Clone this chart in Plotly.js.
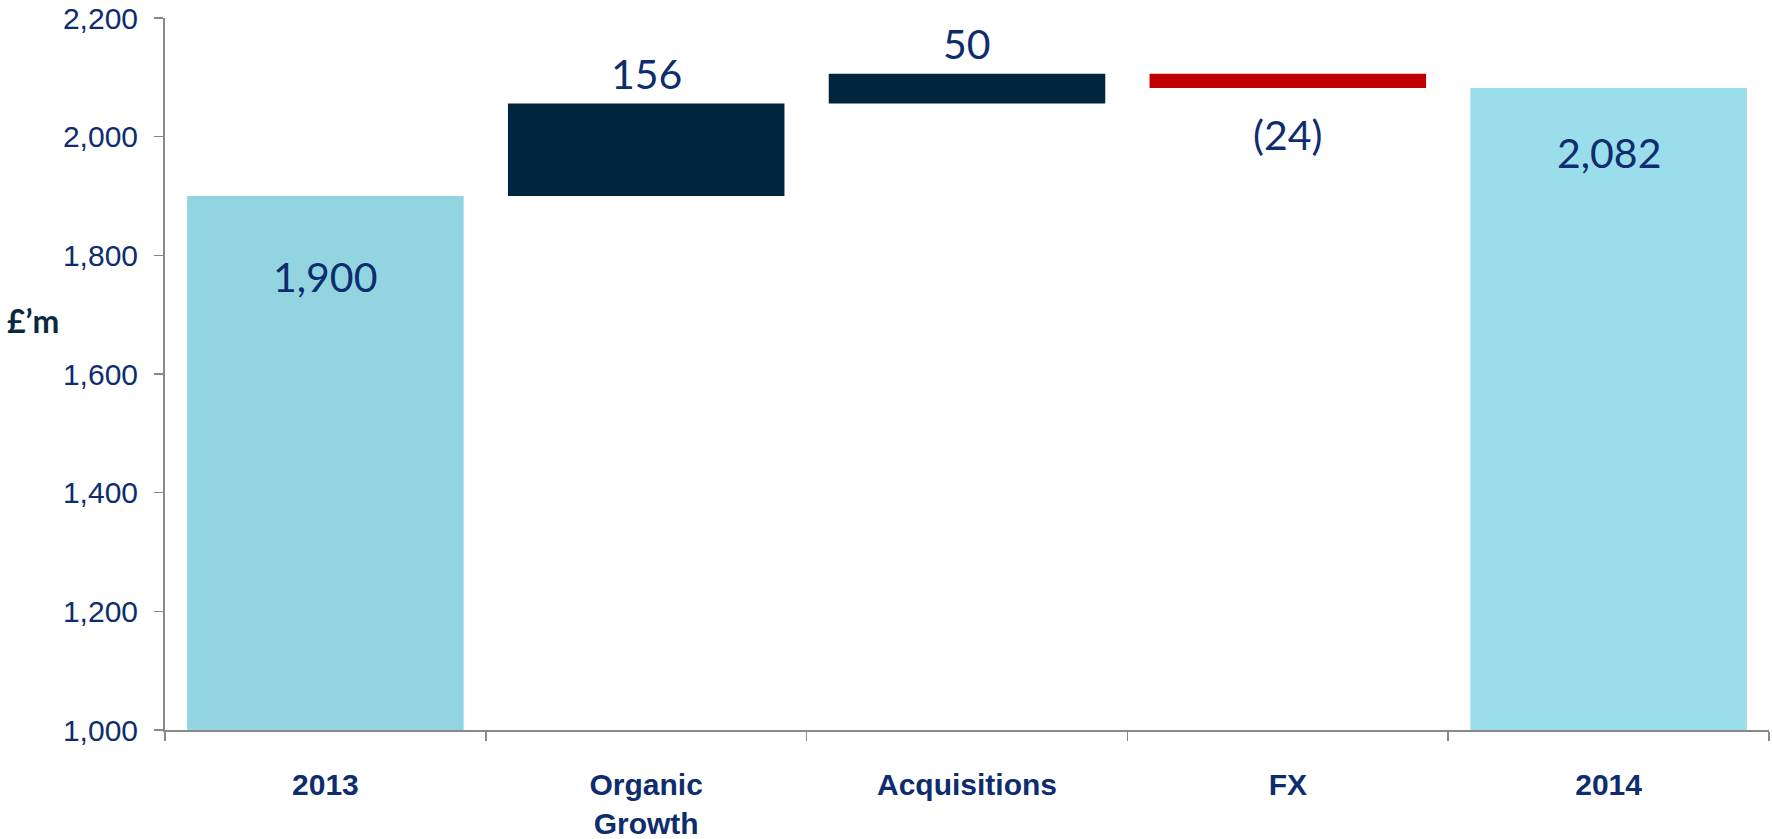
<!DOCTYPE html>
<html>
<head>
<meta charset="utf-8">
<script src="https://cdn.plot.ly/plotly-3.0.1.min.js"></script>
<style>
html,body{margin:0;padding:0;background:#fff;}
#chart{width:1772px;height:839px;}
</style>
</head>
<body>
<div id="chart"></div>
<script>
// ---- data ----
const categories = ['2013', 'Organic<br>Growth', 'Acquisitions', 'FX', '2014'];
const measures = ['absolute', 'relative', 'relative', 'relative', 'total'];
const values = [1900, 156, 50, -24, 2082];
const labels = ['1,900', '156', '50', '(24)', '2,082'];
const yTickVals = [1000, 1200, 1400, 1600, 1800, 2000, 2200];
const yTickText = ['1,000', '1,200', '1,400', '1,600', '1,800', '2,000', '2,200'];

// ---- styles ----
const colStart = '#92D5E1';
const colEnd = '#9ADDEB';
const colUp = '#02253F';
const colDown = '#C00000';
const navy = '#0E2D6E';

// build bases / heights from the data
const bases = [], heights = [], colors = [];
let running = 0;
values.forEach((v, i) => {
  if (measures[i] === 'absolute' || measures[i] === 'total') {
    bases.push(0); heights.push(v); running = v;
    colors.push(i === 0 ? colStart : colEnd);
  } else {
    bases.push(running); heights.push(v); running += v;
    colors.push(v >= 0 ? colUp : colDown);
  }
});

const trace = {
  type: 'bar',
  x: categories,
  y: heights,
  base: bases,
  width: 0.862,
  marker: {color: colors, line: {width: 0}},
  hoverinfo: 'skip'
};

// label annotations: position relative to bar ends (x given as category index)
const annotations = [];
values.forEach((v, i) => {
  const top = bases[i] + Math.max(v, 0);
  const bottom = bases[i] + Math.min(v, 0);
  let y, shift;
  if (measures[i] !== 'relative') { y = top; shift = i === 0 ? -80 : -64; }
  else if (v >= 0) { y = top; shift = 30; }
  else { y = bottom; shift = -46; }
  annotations.push({
    x: i, y: y, xref: 'x', yref: 'y',
    text: labels[i], showarrow: false, yanchor: 'middle', yshift: shift,
    font: {family: 'Lato, "Open Sans", sans-serif', size: 41, color: navy}
  });
});
annotations.push({
  xref: 'paper', yref: 'paper', x: -0.082, y: 0.575, xanchor: 'center', yanchor: 'middle',
  text: '<b>£’m</b>', showarrow: false,
  font: {family: 'Lato, "Liberation Sans", sans-serif', size: 32, color: '#0B2A40'}
});

const layout = {
  width: 1772, height: 839,
  margin: {l: 165, r: 3, t: 18, b: 109},
  paper_bgcolor: '#fff', plot_bgcolor: '#fff',
  showlegend: false,
  xaxis: {
    type: 'category', range: [-0.5, 4.5],
    tickson: 'boundaries', ticks: 'outside', ticklen: 9, tickwidth: 1.5, tickcolor: '#898989',
    showline: true, linecolor: '#898989', linewidth: 2,
    showgrid: false, zeroline: false,
    tickfont: {family: '"Liberation Sans", Arial, sans-serif', size: 30, color: navy, weight: 'bold'},
    ticklabelstandoff: 27
  },
  yaxis: {
    range: [1000, 2200], tickvals: yTickVals, ticktext: yTickText,
    ticks: 'outside', ticklen: 9, tickwidth: 1.5, tickcolor: '#898989',
    showline: true, linecolor: '#898989', linewidth: 2,
    showgrid: false, zeroline: false,
    tickfont: {family: '"Liberation Sans", Arial, sans-serif', size: 30, color: navy},
    ticklabelstandoff: 10
  },
  annotations: annotations
};

Plotly.newPlot('chart', [trace], layout, {staticPlot: true, displayModeBar: false});
</script>
</body>
</html>
